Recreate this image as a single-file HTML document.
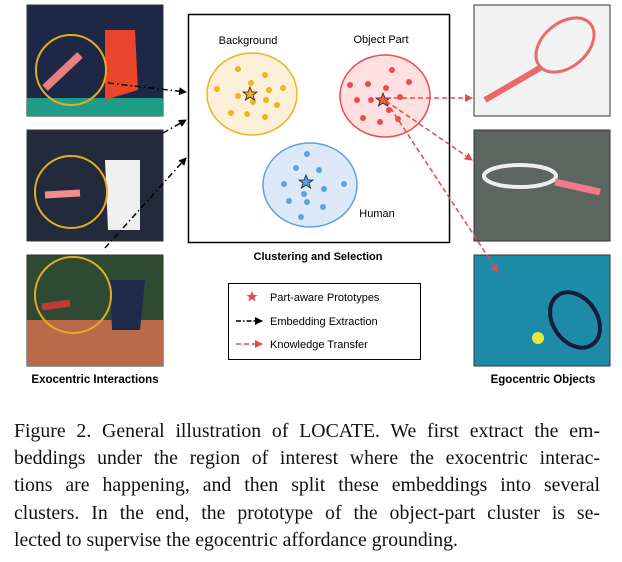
<!DOCTYPE html>
<html><head><style>
body{margin:0;background:#fff;width:622px;height:562px;overflow:hidden}
.cap{position:absolute;left:14px;top:418px;width:586px;font-family:"Liberation Serif",serif;font-size:19.8px;line-height:27.2px;color:#111}
.cap div{text-align:justify;text-align-last:justify;white-space:nowrap}
.cap div.l{text-align-last:left}
</style></head><body>
<svg width="622" height="410" style="position:absolute;left:0;top:0" font-family="Liberation Sans, sans-serif">
<defs>
<marker id="ab" markerWidth="8" markerHeight="8" refX="7" refY="4" orient="auto" markerUnits="userSpaceOnUse"><path d="M0,0 L8,4 L0,8 z" fill="#000"/></marker>
<marker id="ar" markerWidth="8" markerHeight="8" refX="7" refY="4" orient="auto" markerUnits="userSpaceOnUse"><path d="M0,0 L8,4 L0,8 z" fill="#e84a4a"/></marker>
</defs>
<rect x="27" y="5" width="136" height="111" fill="#1e2746" stroke="#333"/>
<rect x="27" y="98" width="136" height="18" fill="#1f9c85"/>
<path d="M105,30 L135,30 L138,90 L105,100 Z" fill="#e8452a"/>
<rect x="27" y="130" width="136" height="111" fill="#232a3b" stroke="#333"/>
<path d="M105,160 L140,160 L140,230 L108,230 Z" fill="#f0f0f0"/>
<rect x="27" y="255" width="136" height="111" fill="#2f4a33" stroke="#333"/>
<rect x="27" y="320" width="136" height="46" fill="#b86a4a"/>
<path d="M110,280 L145,280 L140,330 L112,330 Z" fill="#1e2a4a"/>
<circle cx="71" cy="70" r="35" fill="none" stroke="#e5ad1e" stroke-width="2"/>
<path d="M45,88 L80,55" stroke="#e88080" stroke-width="8"/>
<circle cx="71" cy="192" r="36" fill="none" stroke="#e5ad1e" stroke-width="2"/>
<path d="M45,195 L80,193" stroke="#f08e8e" stroke-width="7"/>
<circle cx="73" cy="295" r="38" fill="none" stroke="#e5ad1e" stroke-width="2"/>
<path d="M42,307 L70,303" stroke="#c03a3a" stroke-width="7"/>
<text x="95" y="383" font-size="11.5" font-weight="bold" text-anchor="middle">Exocentric Interactions</text>
<rect x="474" y="5" width="136" height="111" fill="#f2f2f2" stroke="#333"/>
<ellipse cx="565" cy="45" rx="33" ry="22" transform="rotate(-40 565 45)" fill="none" stroke="#e86a6a" stroke-width="3"/>
<path d="M540,68 L485,100" stroke="#e86a6a" stroke-width="6"/>
<rect x="474" y="130" width="136" height="111" fill="#5b6660" stroke="#333"/>
<ellipse cx="520" cy="176" rx="36" ry="11" fill="none" stroke="#eee" stroke-width="4"/>
<path d="M555,182 L600,192" stroke="#f07a8a" stroke-width="7"/>
<rect x="474" y="255" width="136" height="111" fill="#1d8aa8" stroke="#333"/>
<ellipse cx="575" cy="320" rx="22" ry="30" transform="rotate(-35 575 320)" fill="none" stroke="#1a1a3a" stroke-width="4"/>
<circle cx="538" cy="338" r="6" fill="#e6e83a"/>
<text x="543" y="383" font-size="11.5" font-weight="bold" text-anchor="middle">Egocentric Objects</text>
<rect x="188.5" y="14.5" width="261" height="228" fill="#fff" stroke="#000" stroke-width="1.5"/>
<text x="318" y="260" font-size="11" font-weight="bold" text-anchor="middle">Clustering and Selection</text>
<text x="248" y="44" font-size="11" text-anchor="middle">Background</text>
<text x="381" y="43" font-size="11" text-anchor="middle">Object Part</text>
<text x="377" y="217" font-size="11" text-anchor="middle">Human</text>
<ellipse cx="252" cy="94" rx="45" ry="41" fill="#fdf0d8" stroke="#efb323" stroke-width="1.5"/>
<ellipse cx="385" cy="96" rx="45" ry="41" fill="#fde0df" stroke="#ee4c4c" stroke-width="1.5"/>
<ellipse cx="310" cy="185" rx="47" ry="42" fill="#dde9f8" stroke="#5aa2e6" stroke-width="1.5"/>
<g fill="#efb323"><circle cx="238" cy="69" r="3"/><circle cx="265" cy="75" r="3"/><circle cx="251" cy="83" r="3"/><circle cx="217" cy="89" r="3"/><circle cx="238" cy="96" r="3"/><circle cx="269" cy="90" r="3"/><circle cx="283" cy="88" r="3"/><circle cx="266" cy="100" r="3"/><circle cx="277" cy="105" r="3"/><circle cx="253" cy="102" r="3"/><circle cx="231" cy="113" r="3"/><circle cx="247" cy="114" r="3"/><circle cx="265" cy="117" r="3"/></g>
<g fill="#ee4c4c"><circle cx="392" cy="70" r="3"/><circle cx="409" cy="82" r="3"/><circle cx="350" cy="85" r="3"/><circle cx="368" cy="84" r="3"/><circle cx="386" cy="88" r="3"/><circle cx="357" cy="100" r="3"/><circle cx="371" cy="100" r="3"/><circle cx="400" cy="97" r="3"/><circle cx="389" cy="110" r="3"/><circle cx="363" cy="118" r="3"/><circle cx="380" cy="122" r="3"/><circle cx="398" cy="119" r="3"/></g>
<g fill="#5aa2e6"><circle cx="307" cy="154" r="3"/><circle cx="296" cy="168" r="3"/><circle cx="319" cy="170" r="3"/><circle cx="284" cy="184" r="3"/><circle cx="304" cy="194" r="3"/><circle cx="324" cy="189" r="3"/><circle cx="344" cy="184" r="3"/><circle cx="289" cy="201" r="3"/><circle cx="307" cy="202" r="3"/><circle cx="323" cy="207" r="3"/><circle cx="301" cy="217" r="3"/></g>
<path d="M250,87 l2,5 5,0 -4,3 1.6,5 -4.6,-3 -4.6,3 1.6,-5 -4,-3 5,0z" fill="#efb323" stroke="#222" stroke-width="0.8"/>
<path d="M383,93 l2,5 5,0 -4,3 1.6,5 -4.6,-3 -4.6,3 1.6,-5 -4,-3 5,0z" fill="#f06040" stroke="#222" stroke-width="0.8"/>
<path d="M306,175 l2,5 5,0 -4,3 1.6,5 -4.6,-3 -4.6,3 1.6,-5 -4,-3 5,0z" fill="#5aa2e6" stroke="#222" stroke-width="0.8"/>
<g stroke="#000" stroke-width="1.5" stroke-dasharray="6,3,1.5,3" fill="none">
<path d="M108,83 L186,92" marker-end="url(#ab)"/>
<path d="M163,133 L186,120" marker-end="url(#ab)"/>
<path d="M105,248 L186,158" marker-end="url(#ab)"/>
</g>
<g stroke="#e84a4a" stroke-width="1.5" stroke-dasharray="5,3" fill="none">
<path d="M386,98 L472,98" marker-end="url(#ar)"/>
<path d="M386,101 L472,160" marker-end="url(#ar)"/>
<path d="M386,101 L498,272" marker-end="url(#ar)"/>
</g>
<rect x="228.5" y="283.5" width="192" height="76" fill="#fff" stroke="#000"/>
<path d="M252,291 l1.6,4 4,0 -3.2,2.5 1.3,4 -3.7,-2.5 -3.7,2.5 1.3,-4 -3.2,-2.5 4,0z" fill="#e84a4a"/>
<text x="270" y="301" font-size="11">Part-aware Prototypes</text>
<path d="M236,321 L262,321" stroke="#000" stroke-width="1.5" stroke-dasharray="5,2,1.5,2" marker-end="url(#ab)"/>
<text x="270" y="325" font-size="11">Embedding Extraction</text>
<path d="M236,344 L262,344" stroke="#e84a4a" stroke-width="1.5" stroke-dasharray="5,3" marker-end="url(#ar)"/>
<text x="270" y="348" font-size="11">Knowledge Transfer</text>
</svg>
<div class="cap">
<div>Figure 2. General illustration of LOCATE. We first extract the em-</div>
<div>beddings under the region of interest where the exocentric interac-</div>
<div>tions are happening, and then split these embeddings into several</div>
<div>clusters. In the end, the prototype of the object-part cluster is se-</div>
<div class="l">lected to supervise the egocentric affordance grounding.</div>
</div>
</body></html>
